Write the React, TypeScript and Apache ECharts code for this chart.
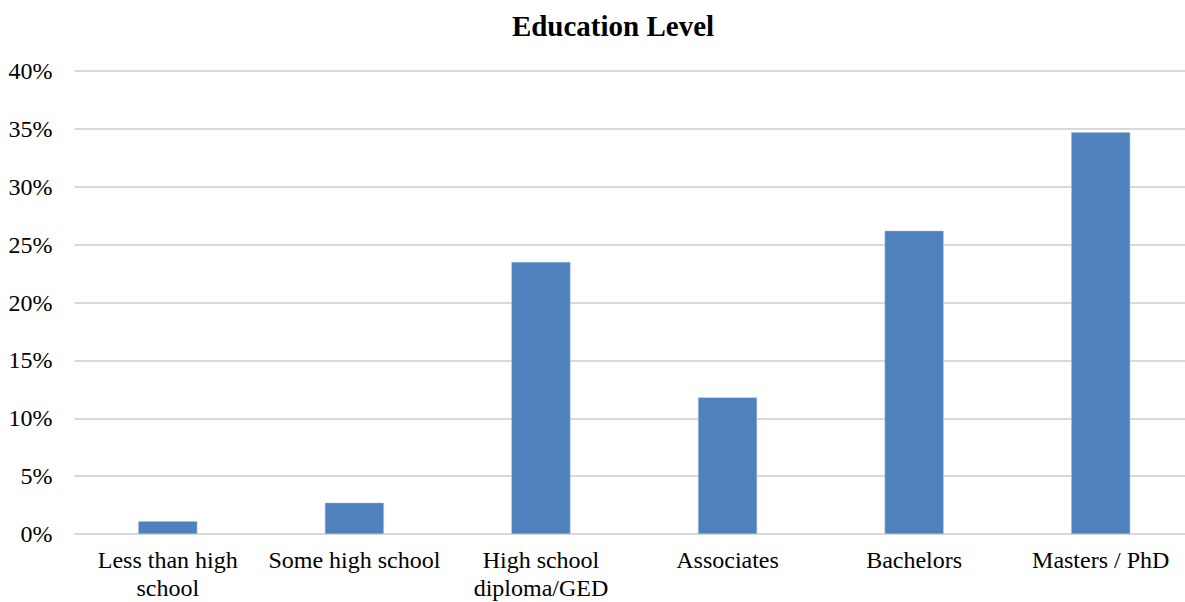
import React, { useEffect, useRef } from "react";
import * as echarts from "echarts";

const categories = [
  "Less than high\nschool",
  "Some high school",
  "High school\ndiploma/GED",
  "Associates",
  "Bachelors",
  "Masters / PhD",
];
const values = [1.1, 2.7, 23.5, 11.8, 26.2, 34.7];
const yTicks = [0, 5, 10, 15, 20, 25, 30, 35, 40];

export default function App() {
  const ref = useRef<HTMLDivElement>(null);
  useEffect(() => {
    document.body.style.margin = "0";
    document.body.style.overflow = "hidden";
    const chart = echarts.init(ref.current!, null, { renderer: "svg" });
    const font = "'Liberation Serif', 'Times New Roman', serif";
    chart.setOption({
      animation: false,
      backgroundColor: "#ffffff",
      title: {
        text: "Education Level",
        left: 608,
        textAlign: "center",
        top: 6,
        textStyle: { fontFamily: font, fontSize: 29, fontWeight: "bold", color: "#000" },
      },
      grid: { left: 74.5, right: 0, top: 71, bottom: 67.5, containLabel: false },
      xAxis: {
        type: "category",
        data: categories,
        axisLine: { lineStyle: { color: "#d9d9d9", width: 2 } },
        axisTick: { show: false },
        axisLabel: {
          fontFamily: font,
          fontSize: 24,
          color: "#000",
          margin: 12,
          lineHeight: 28,
          interval: 0,
        },
      },
      yAxis: {
        type: "value",
        min: yTicks[0],
        max: yTicks[yTicks.length - 1],
        interval: 5,
        axisLine: { show: false },
        axisTick: { show: false },
        splitLine: { lineStyle: { color: "#d9d9d9", width: 2 } },
        axisLabel: {
          fontFamily: font,
          fontSize: 24,
          color: "#000",
          margin: 22,
          formatter: (v: number) => `${v}%`,
        },
      },
      series: [
        {
          type: "bar",
          data: values,
          barWidth: 59,
          itemStyle: { color: "#4F81BD", borderColor: "#A7BFDE", borderWidth: 0.5 },
        },
      ],
    });
    return () => chart.dispose();
  }, []);
  return (
    <div style={{ width: 1185, height: 602, overflow: "hidden" }}>
      <div ref={ref} style={{ width: 1194, height: 602 }} />
    </div>
  );
}
